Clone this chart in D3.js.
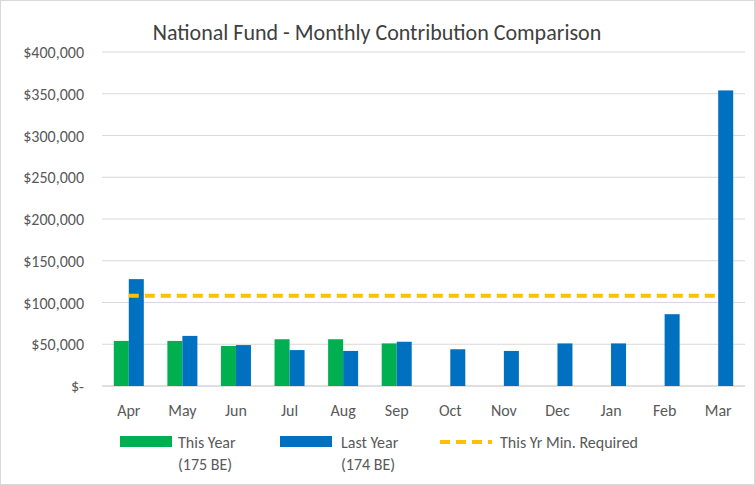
<!DOCTYPE html><html><head><script src="https://cdn.jsdelivr.net/npm/d3@7"></script>
<style>body{margin:0;background:#fff}text{font-family:Calibri,Carlito,"Liberation Sans",Arial,sans-serif}</style></head><body>
<svg id="c" width="755" height="485"></svg>
<script>
const months=["Apr","May","Jun","Jul","Aug","Sep","Oct","Nov","Dec","Jan","Feb","Mar"];
const thisYear=[54000,54000,48000,56000,56000,51000,null,null,null,null,null,null];
const lastYear=[128000,60000,49000,43000,42000,53000,44000,42000,51000,51000,86000,354000];
const minRequired=108000;
const yTicks=[0,50000,100000,150000,200000,250000,300000,350000,400000];
const svg=d3.select("#c");
svg.append("rect").attr("x",0.5).attr("y",0.5).attr("width",754).attr("height",484).attr("fill","#fff").attr("stroke","#d9d9d9");
const x=d3.scaleBand().domain(months).range([102,745]).paddingInner(0.44).paddingOuter(0.22);
const y=d3.scaleLinear().domain([0,400000]).range([386,52]);
const fmt=v=>v===0?"$-":"$"+d3.format(",")(v);
svg.append("g").selectAll("line").data(yTicks).join("line").attr("x1",102).attr("x2",745).attr("y1",d=>y(d)).attr("y2",d=>y(d)).attr("stroke",(d)=>d===0?"#bfbfbf":"#d9d9d9");
svg.append("g").selectAll("text").data(yTicks).join("text").attr("x",84).attr("y",d=>y(d)+6).attr("text-anchor","end").attr("font-size",16).attr("fill","#595959").text(d=>fmt(d));
const bw=x.bandwidth()/2;
svg.append("g").selectAll("rect").data(months.map((m,i)=>({m,v:thisYear[i]})).filter(d=>d.v!=null)).join("rect")
 .attr("x",d=>x(d.m)).attr("y",d=>y(d.v)).attr("width",bw).attr("height",d=>y(0)-y(d.v)).attr("fill","#00b050");
svg.append("g").selectAll("rect").data(months.map((m,i)=>({m,v:lastYear[i]}))).join("rect")
 .attr("x",d=>x(d.m)+bw).attr("y",d=>y(d.v)).attr("width",bw).attr("height",d=>y(0)-y(d.v)).attr("fill","#0070c0");
svg.append("line").attr("x1",x("Apr")+x.bandwidth()/2).attr("x2",x("Mar")+x.bandwidth()/2).attr("y1",y(minRequired)).attr("y2",y(minRequired))
 .attr("stroke","#ffc000").attr("stroke-width",4).attr("stroke-dasharray","10,6");
svg.append("g").selectAll("text").data(months).join("text").attr("x",d=>x(d)+x.bandwidth()/2).attr("y",416).attr("text-anchor","middle").attr("font-size",16).attr("fill","#595959").text(d=>d);
svg.append("text").attr("x",377).attr("y",40).attr("text-anchor","middle").attr("font-size",22).attr("fill","#404040").text("National Fund - Monthly Contribution Comparison");
const lg=svg.append("g").attr("font-size",16).attr("fill","#595959");
lg.append("rect").attr("x",120).attr("y",436).attr("width",52).attr("height",11).attr("fill","#00b050");
lg.append("text").attr("x",178).attr("y",448).text("This Year");
lg.append("text").attr("x",178).attr("y",470).text("(175 BE)");
lg.append("rect").attr("x",280).attr("y",436).attr("width",52).attr("height",11).attr("fill","#0070c0");
lg.append("text").attr("x",341).attr("y",448).text("Last Year");
lg.append("text").attr("x",341).attr("y",470).text("(174 BE)");
lg.append("line").attr("x1",440).attr("x2",492).attr("y1",442).attr("y2",442).attr("stroke","#ffc000").attr("stroke-width",4).attr("stroke-dasharray","10,6");
lg.append("text").attr("x",500).attr("y",448).text("This Yr  Min. Required");
</script></body></html>
